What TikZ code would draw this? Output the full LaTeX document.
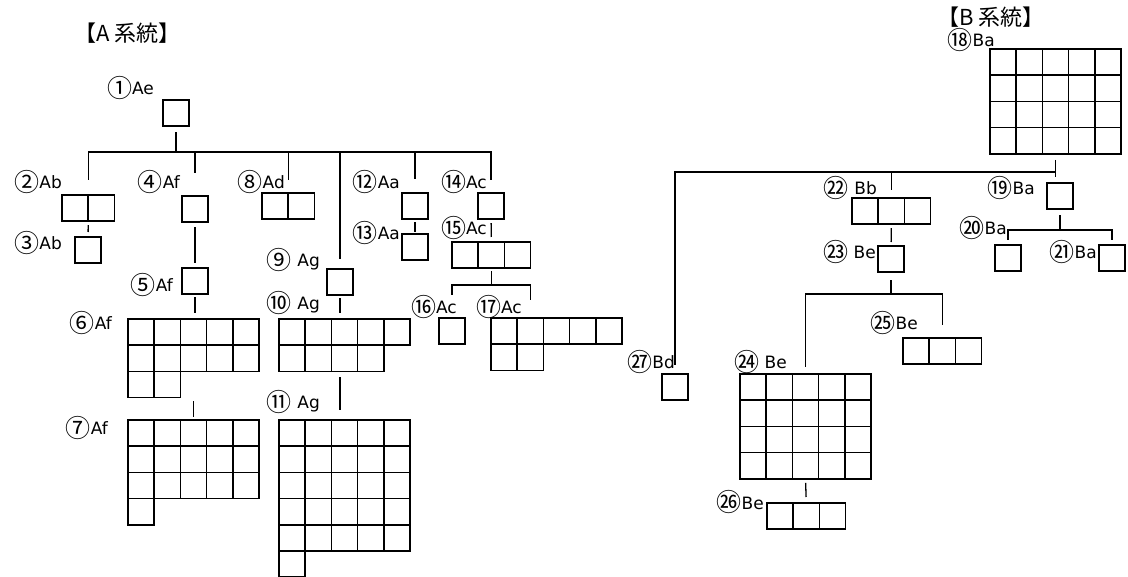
\documentclass[tikz,border=0pt]{standalone}
\usepackage{fontspec}
\setmainfont{DejaVu Sans}
\newfontfamily\cjk{Noto Sans CJK JP}

\newcommand\cellsz{26.2}
% one block of cells: name, left, top, cells per row
\newcommand\cellgrid[4]{%
  \foreach \len [count=\row] in {#4}{%
    \foreach \col in {1,...,\len}{%
      \node[cell] (#1-\row-\col) at ({#2+(\col-1)*\cellsz},{#3+(\row-1)*\cellsz}) {};
    }%
  }%
}
% circled number, set larger than the letters
\newcommand\ring[1]{\raisebox{-2.5pt}{\cjk\fontsize{25}{25}\selectfont #1}}

\begin{document}
\begin{tikzpicture}[
x=1pt, y=-1pt,
font=\fontsize{17}{17}\selectfont,
cell/.style={
    draw,
    line width=1.5pt,
    minimum size=\cellsz pt,
    inner sep=0pt,
    outer sep=0pt,
    anchor=north west
},
tag/.style={
    anchor=east,
    inner sep=0pt
},
titel/.style={
    anchor=west,
    inner sep=0pt,
    font=\cjk\fontsize{22}{22}\selectfont
},
wire/.style={
    line width=1.3pt
}
]
\useasboundingbox (0,0) rectangle (1128,577);

% Titel
\node[titel] (titleA) at (74,33) {【A 系統】};
\node[titel] (titleB) at (937,17) {【B 系統】};

% Bloecke A
\cellgrid{g1}{163}{100}{1}
\cellgrid{g2}{62}{195}{2}
\cellgrid{g3}{75}{237}{1}
\cellgrid{g4}{182}{196}{1}
\cellgrid{g5}{182}{268}{1}
\cellgrid{g6}{128}{319}{5,5,2}
\cellgrid{g7}{128}{420}{5,5,5,1}
\cellgrid{g8}{262}{193}{2}
\cellgrid{g9}{327}{269}{1}
\cellgrid{g10}{279}{319}{5,4}
\cellgrid{g11}{279}{420}{5,5,5,5,5,1}
\cellgrid{g12}{402}{193}{1}
\cellgrid{g13}{402}{234}{1}
\cellgrid{g14}{478}{193}{1}
\cellgrid{g15}{452}{242}{3}
\cellgrid{g16}{439}{318}{1}
\cellgrid{g17}{491}{318}{5,2}

% Bloecke B
\cellgrid{g18}{990}{49}{5,5,5,5}
\cellgrid{g19}{1047}{183}{1}
\cellgrid{g20}{995}{245}{1}
\cellgrid{g21}{1099}{245}{1}
\cellgrid{g22}{852}{198}{3}
\cellgrid{g23}{878}{246}{1}
\cellgrid{g24}{740}{374}{5,5,5,5}
\cellgrid{g25}{903}{338}{3}
\cellgrid{g26}{767}{503}{3}
\cellgrid{g27}{662}{374}{1}

% Beschriftung A
\node[tag] (l1) at (154,88) {\ring{①}Ae};
\node[tag] (l2) at (62,182) {\ring{②}Ab};
\node[tag] (l3) at (62,243) {\ring{③}Ab};
\node[tag] (l4) at (180,182) {\ring{④}Af};
\node[tag] (l5) at (173,285) {\ring{⑤}Af};
\node[tag] (l6) at (112,323) {\ring{⑥}Af};
\node[tag] (l7) at (108,428) {\ring{⑦}Af};
\node[tag] (l8) at (285,182) {\ring{⑧}Ad};
\node[tag] (l9) at (320,260) {\ring{⑨} Ag};
\node[tag] (l10) at (320,303) {\ring{⑩} Ag};
\node[tag] (l11) at (320,402) {\ring{⑪} Ag};
\node[tag] (l12) at (400,182) {\ring{⑫}Aa};
\node[tag] (l13) at (400,233) {\ring{⑬}Aa};
\node[tag] (l14) at (487,182) {\ring{⑭}Ac};
\node[tag] (l15) at (487,228) {\ring{⑮}Ac};
\node[tag] (l16) at (457,307) {\ring{⑯}Ac};
\node[tag] (l17) at (522,307) {\ring{⑰}Ac};

% Beschriftung B
\node[tag] (l18) at (995,40) {\ring{⑱}Ba};
\node[tag] (l19) at (1035,188) {\ring{⑲}Ba};
\node[tag] (l20) at (1007,228) {\ring{⑳}Ba};
\node[tag] (l21) at (1097,252) {\ring{㉑}Ba};
\node[tag] (l22) at (877,188) {\ring{㉒} Bb};
\node[tag] (l23) at (876,252) {\ring{㉓} Be};
\node[tag] (l24) at (787,362) {\ring{㉔} Be};
\node[tag] (l25) at (918,323) {\ring{㉕}Be};
\node[tag] (l26) at (764,502) {\ring{㉖}Be};
\node[tag] (l27) at (675,362) {\ring{㉗}Bd};

% Verbindungen A
\coordinate (busA) at (0,152);
\draw[wire, shorten <=6pt] (g1-1-1.south) -- (g1-1-1.south |- busA);
\draw[wire, shorten <=15pt, shorten >=13pt]
(g2-1-1.north east) -- (g2-1-1.north east |- busA) -- (g14-1-1.north |- busA) -- (g14-1-1.north);
\draw[wire, shorten >=23pt] (g4-1-1.north |- busA) -- (g4-1-1.north);
\draw[wire, shorten >=13pt] (g8-1-1.north east |- busA) -- (g8-1-1.north east);
\draw[wire, shorten >=10pt] (g9-1-1.north |- busA) -- (g9-1-1.north);
\draw[wire, shorten >=14pt] (g12-1-1.north |- busA) -- (g12-1-1.north);

\draw[wire, shorten <=4pt, shorten >=5pt] (g2-1-1.south east) -- (g3-1-1.north);
\draw[wire, shorten <=5pt, shorten >=5pt] (g4-1-1.south) -- (g5-1-1.north);
\draw[wire, shorten <=3pt, shorten >=6pt] (g5-1-1.south) -- (g5-1-1.south |- g6-1-3.north);
\draw[wire, shorten <=3.5pt, shorten >=3pt] (g6-3-2.south -| g7-1-3.north) -- (g7-1-3.north);
\draw[wire, shorten <=3pt, shorten >=6pt] (g9-1-1.south) -- (g9-1-1.south |- g10-1-1.north);
\draw[wire, shorten <=6pt, shorten >=10pt] (g9-1-1.south |- g10-2-1.south) -- (g9-1-1.south |- g11-1-1.north);
\draw[wire, shorten <=3pt, shorten >=2pt] (g12-1-1.south) -- (g13-1-1.north);
\draw[wire, shorten <=4pt, shorten >=5pt] (g14-1-1.south) -- (g15-1-2.north);

\coordinate (brk15) at (0,285);
\draw[wire, shorten <=3pt] (g15-1-2.south) -- (g15-1-2.south |- brk15);
\draw[wire, shorten <=23pt, shorten >=18pt]
(g16-1-1.north) -- (g16-1-1.north |- brk15) -- (g17-1-2.north |- brk15) -- (g17-1-2.north);

% Verbindungen B
\coordinate (busB) at (0,172);
\draw[wire, shorten <=6pt, shorten >=6pt] (g18-4-3.south) -- (g18-4-3.south |- g19-1-1.north);
\draw[wire, shorten >=9pt]
(g18-4-3.south |- busB) -- (g27-1-1.north |- busB) -- (g27-1-1.north);
\draw[wire, shorten >=8pt] (g22-1-2.north |- busB) -- (g22-1-2.north);

\coordinate (brk19) at (0,230);
\draw[wire, shorten <=6pt] (g19-1-1.south) -- (g19-1-1.south |- brk19);
\draw[wire, shorten <=5pt, shorten >=5pt]
(g20-1-1.north) -- (g20-1-1.north |- brk19) -- (g21-1-1.north |- brk19) -- (g21-1-1.north);

\draw[wire, shorten <=4pt, shorten >=4pt] (g22-1-2.south) -- (g23-1-1.north);

\coordinate (brk23) at (0,294);
\draw[wire, shorten <=8pt] (g23-1-1.south) -- (g23-1-1.south |- brk23);
\draw[wire, shorten <=7pt, shorten >=13pt]
(g24-1-3.north) -- (g24-1-3.north |- brk23) -- (g25-1-2.north |- brk23) -- (g25-1-2.north);

\draw[wire, shorten <=4pt, shorten >=6pt] (g24-4-3.south) -- (g26-1-2.north);

\end{tikzpicture}
\end{document}
